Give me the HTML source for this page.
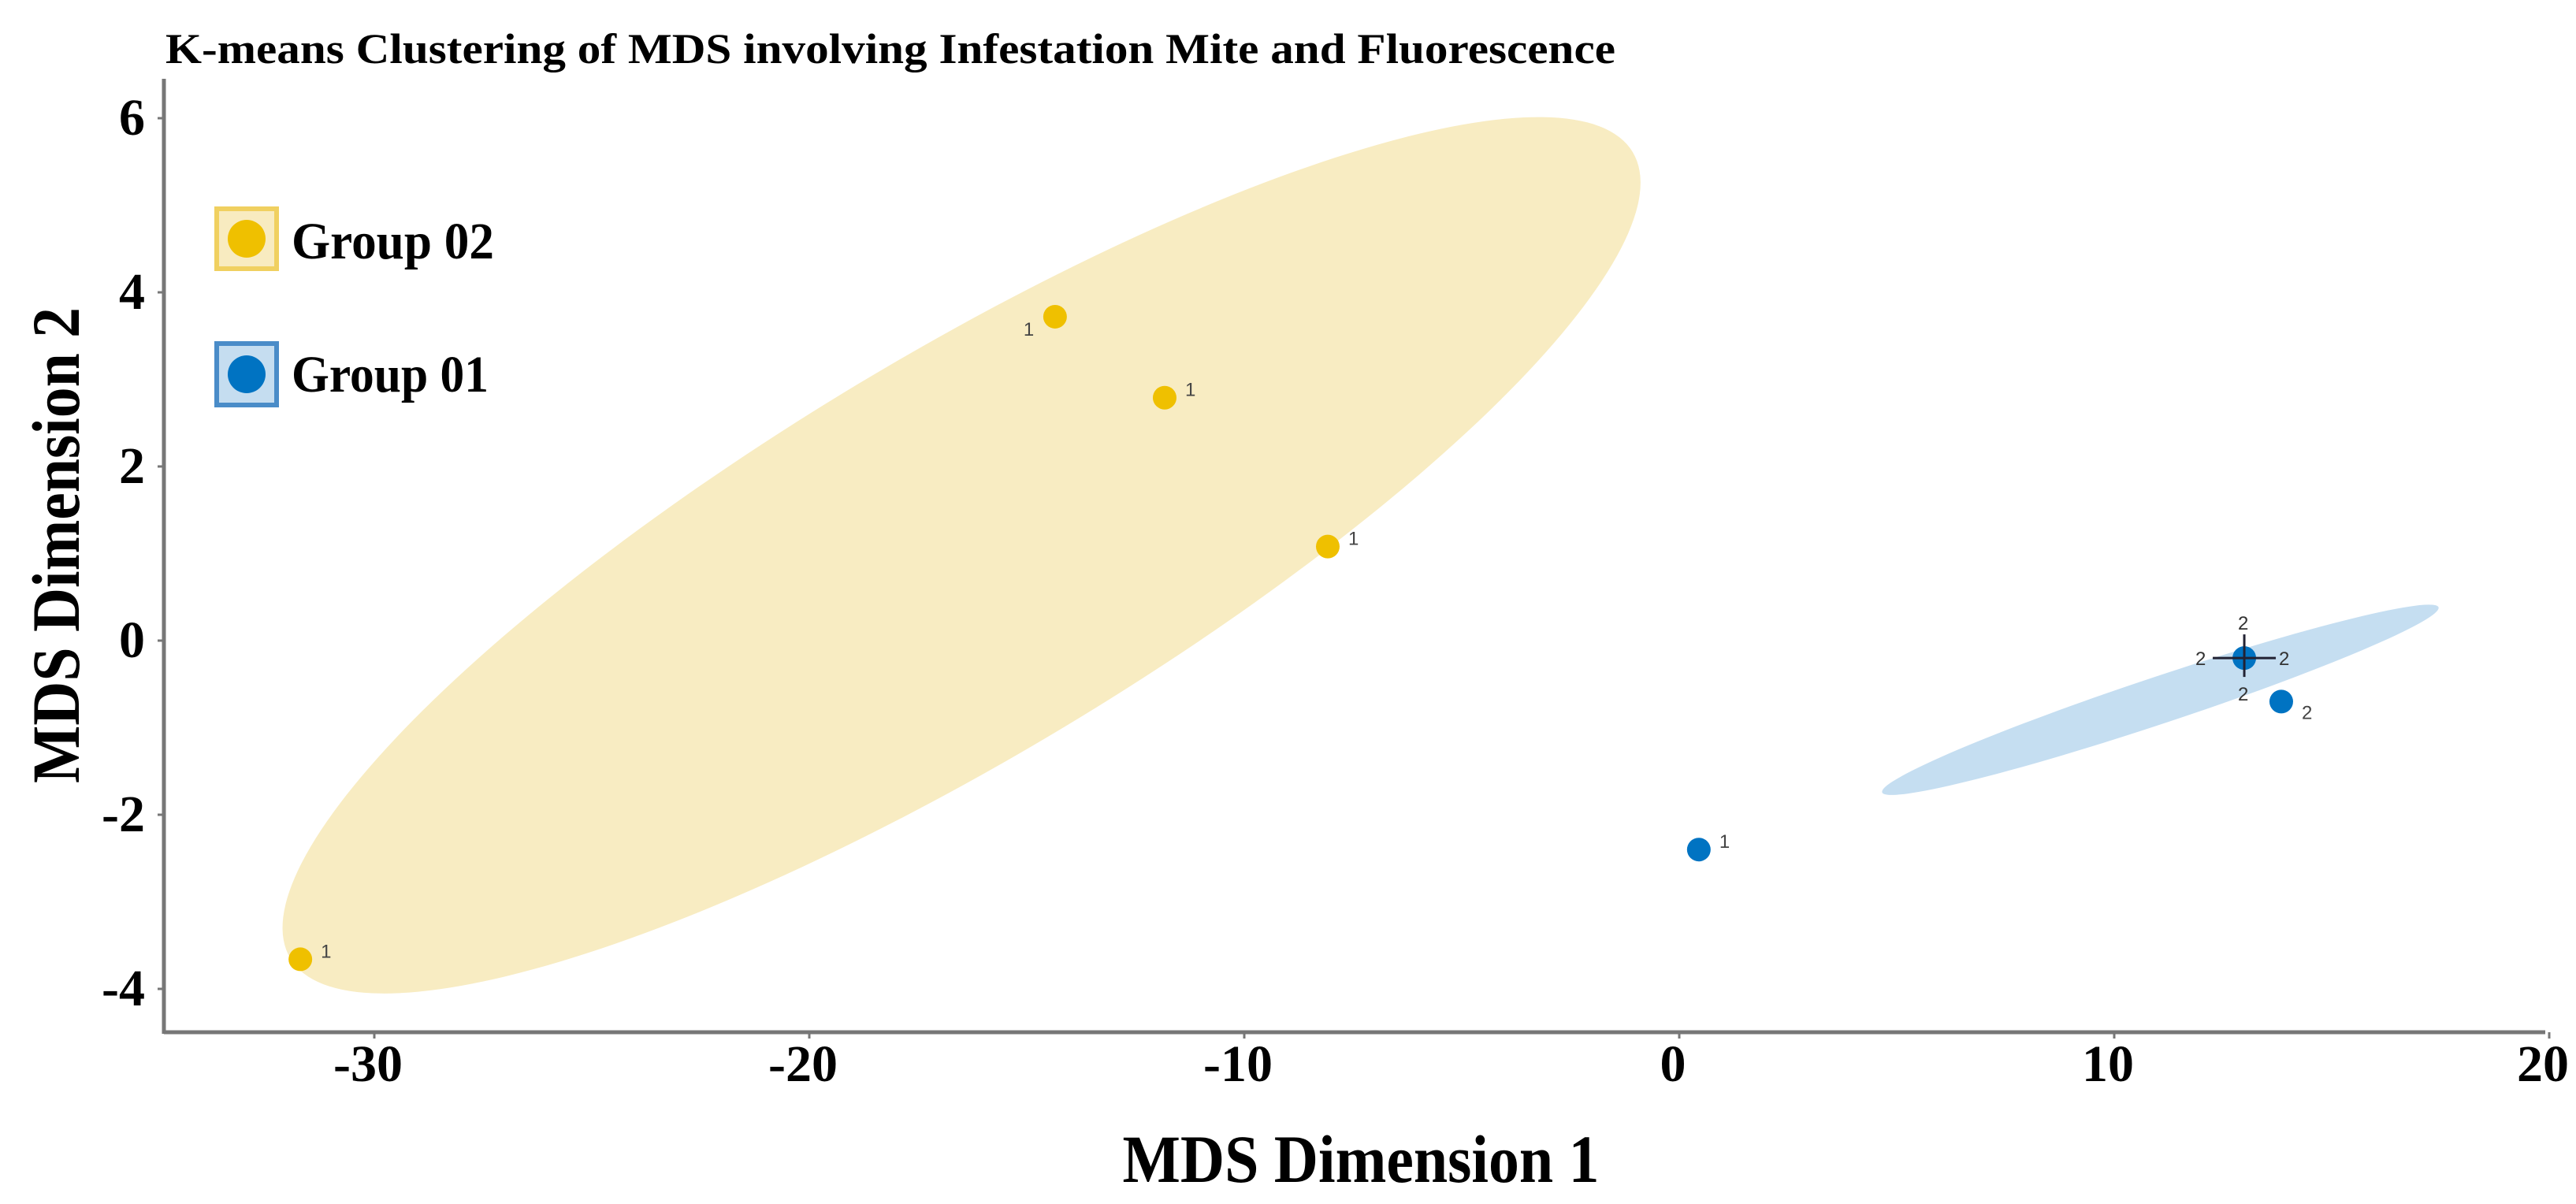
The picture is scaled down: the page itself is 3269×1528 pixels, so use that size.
<!DOCTYPE html>
<html><head><meta charset="utf-8"><style>
html,body{margin:0;padding:0;background:#fff;}
svg{display:block;}
</style></head><body>
<svg id="chart" xmlns="http://www.w3.org/2000/svg" width="3269" height="1528" viewBox="0 0 3269 1528">
<rect width="3269" height="1528" fill="#fff"/>
<text x="210" y="80" font-family="Liberation Serif, serif" font-weight="bold" font-size="54" textLength="1840" lengthAdjust="spacingAndGlyphs">K-means Clustering of MDS involving Infestation Mite and Fluorescence</text>
<g id="ellipses"></g>
<g id="axes"></g>
<g id="points"></g>
<text x="1727" y="1500" text-anchor="middle" font-family="Liberation Serif, serif" font-weight="bold" font-size="86" textLength="605" lengthAdjust="spacingAndGlyphs">MDS Dimension 1</text>
<text transform="translate(100,692) rotate(-90)" text-anchor="middle" font-family="Liberation Serif, serif" font-weight="bold" font-size="86" textLength="604" lengthAdjust="spacingAndGlyphs">MDS Dimension 2</text>
<g>
<g>
<rect x="275" y="265" width="76" height="76" fill="#F8EBC0" stroke="#F0D060" stroke-width="6"/>
<circle cx="313" cy="303" r="24" fill="#EFC000"/>
<text x="370" y="328" font-family="Liberation Serif, serif" font-weight="bold" font-size="66" textLength="257" lengthAdjust="spacingAndGlyphs">Group 02</text>
</g>
<g>
<rect x="275" y="436" width="76" height="78" fill="#C5DDF0" stroke="#4A8CC8" stroke-width="6"/>
<circle cx="313" cy="475" r="24" fill="#0073C2"/>
<text x="370" y="497" font-family="Liberation Serif, serif" font-weight="bold" font-size="66" textLength="250" lengthAdjust="spacingAndGlyphs">Group 01</text>
</g>
</g>
</svg>
<script>
const xTicks = [-30, -20, -10, 0, 10, 20];
const yTicks = [-4, -2, 0, 2, 4, 6];
const g2X = [-31.7, -14.35, -11.83, -8.08];
const g2Y = [-3.66, 3.72, 2.79, 1.08];
const g2Lab = ["1", "1", "1", "1"];
const g2Side = ["r", "l", "r", "r"];
const g1X = [0.45, 12.99, 13.84];
const g1Y = [-2.4, -0.2, -0.7];
const g1Lab = ["1", "", "2"];
const g1Side = ["r", "r", "rb"];
const ellG2 = {cx: -16.5, cy: 0.98, a: 18.0, b: 4.6, ang: -31};
const ellG1 = {cx: 11.06, cy: -0.68, a: 6.74, b: 0.54, ang: -18.4};

const NS = "http://www.w3.org/2000/svg";
const X0 = 2131, XS = 55.2, Y0 = 813, YS = 110.5;
const sx = v => X0 + v * XS;
const sy = v => Y0 - v * YS;
function mk(tag, attrs, parent) {
  const e = document.createElementNS(NS, tag);
  for (const k in attrs) e.setAttribute(k, attrs[k]);
  parent.appendChild(e);
  return e;
}
const axes = document.getElementById('axes');
const ell = document.getElementById('ellipses');
const pts = document.getElementById('points');

function drawEllipse(E, fill, name) {
  const e = mk('ellipse', {cx: sx(E.cx), cy: sy(E.cy), rx: E.a * XS, ry: E.b * XS, fill: fill,
    transform: `rotate(${E.ang} ${sx(E.cx)} ${sy(E.cy)})`}, ell);
  
  
}
drawEllipse(ellG2, '#F8ECC2', 'group-02-ellipse');
drawEllipse(ellG1, '#C5DEF1', 'group-01-ellipse');

const xa = mk('line', {x1: 208, y1: 1310, x2: 3230, y2: 1310, stroke: '#777', 'stroke-width': 5}, axes);


const ya = mk('line', {x1: 208, y1: 100, x2: 208, y2: 1312, stroke: '#777', 'stroke-width': 5}, axes);



xTicks.forEach(v => {
  mk('line', {x1: sx(v), y1: 1310, x2: sx(v), y2: 1318, stroke: '#777', 'stroke-width': 3}, axes);
  const t = mk('text', {x: sx(v) - 8, y: 1372, 'text-anchor': 'middle', 'font-family': 'Liberation Serif, serif',
    'font-weight': 'bold', 'font-size': 66}, axes);
  t.textContent = v;
  
  
});
yTicks.forEach(v => {
  mk('line', {x1: 200, y1: sy(v), x2: 208, y2: sy(v), stroke: '#777', 'stroke-width': 3}, axes);
  const t = mk('text', {x: 184, y: sy(v) + 21, 'text-anchor': 'end', 'font-family': 'Liberation Serif, serif',
    'font-weight': 'bold', 'font-size': 66}, axes);
  t.textContent = v;
  
  
});

function drawPts(xs, ys, labs, sides, color, name) {
  xs.forEach((x, i) => {
    const c = mk('circle', {cx: sx(x), cy: sy(ys[i]), r: 15, fill: color}, pts);
    
    
    if (!labs[i]) return;
    let dx = 26, dy = -2;
    if (sides[i] === 'l') { dx = -40; dy = 24; }
    if (sides[i] === 'rb') { dx = 26; dy = 22; }
    const t = mk('text', {x: sx(x) + dx, y: sy(ys[i]) + dy, 'font-family': 'Liberation Sans, sans-serif',
      'font-size': 24, fill: '#444'}, pts);
    t.textContent = labs[i];
    
    
  });
}
drawPts(g2X, g2Y, g2Lab, g2Side, '#EFC000', 'group-02-point');
drawPts(g1X, g1Y, g1Lab, g1Side, '#0073C2', 'group-01-point');

const cxp = sx(g1X[1]), cyp = sy(g1Y[1]);
const cross = mk('g', {}, pts);


mk('line', {x1: cxp - 40, y1: cyp, x2: cxp + 40, y2: cyp, stroke: '#223', 'stroke-width': 3}, cross);
mk('line', {x1: cxp, y1: cyp - 30, x2: cxp, y2: cyp + 24, stroke: '#223', 'stroke-width': 3}, cross);
[[-62, 9], [44, 9], [-8, -36], [-8, 54]].forEach(o => {
  const t = mk('text', {x: cxp + o[0], y: cyp + o[1], 'font-family': 'Liberation Sans, sans-serif', 'font-size': 24, fill: '#333'}, cross);
  t.textContent = '2';
});
</script>
</body></html>
